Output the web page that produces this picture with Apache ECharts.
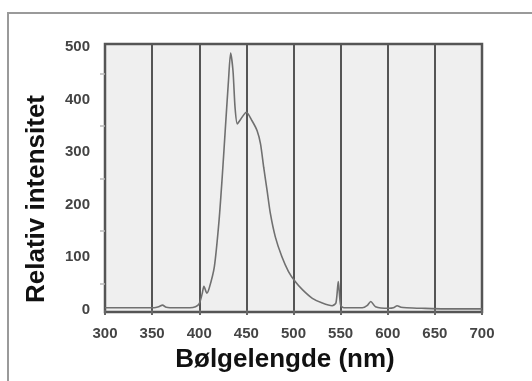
<!DOCTYPE html>
<html>
<head>
<meta charset="utf-8">
<script src="https://cdn.jsdelivr.net/npm/echarts@6/dist/echarts.min.js"></script>
<style>
html,body{margin:0;padding:0;background:#fff;}
#chart{width:532px;height:381px;}
</style>
</head>
<body>
<div id="chart"></div>
<script>
// Wavelength (nm) and relative intensity
var wavelengths = [300,320,340,352,357,361,365,375,390,396,400,403,405,408,410.5,416,421,424.6,428,431,433.3,435.8,438,440.4,444,450,456,461.4,465,468.4,472,475.5,480.7,487.7,494.7,501.8,509.7,520,530.6,541,545,547.5,550,553.5,573,578,582,587,601,606,610,614,620,636,660,680,700];
var intensities = [4,4,4,4,6,9,5,4,4,6,12,30,45,32,41,82,170,259,354,436,489,455,385,354,363,376,360,341,316,271,227,183,139,101,73,54,38,22,13,8,13,54,9,4,4,8,16,6,3,4,8,5,4,3,2,2,2];
var xTicks = [300,350,400,450,500,550,600,650,700];
var yLabels = [0,100,200,300,400,500];
var yMinorTicks = [50,150,250,350,450];

var seriesData = wavelengths.map(function(w,i){ return [w, intensities[i]]; });

var chart = echarts.init(document.getElementById('chart'), null, {renderer:'canvas'});
chart.setOption({
  backgroundColor: '#ffffff',
  animation: false,
  graphic: [{
    type: 'polyline',
    silent: true,
    shape: { points: [[8,381],[8,13],[532,13]] },
    style: { stroke: '#9a9a9a', lineWidth: 2, fill: null }
  }],
  grid: {
    left: 105, right: 50, top: 44, bottom: 69,
    show: true,
    backgroundColor: '#efefef',
    borderColor: '#555555',
    borderWidth: 2.5
  },
  xAxis: {
    type: 'value',
    min: xTicks[0], max: xTicks[xTicks.length-1], interval: 50,
    name: 'Bølgelengde (nm)',
    nameLocation: 'middle',
    nameGap: 35,
    nameTextStyle: { fontFamily: 'Liberation Sans', fontWeight: 'bold', fontSize: 26, color: '#111', padding: [0,17,0,0] },
    axisLine: { show: false },
    axisTick: { show: true, length: 5, lineStyle: { color: '#666', width: 2 } },
    axisLabel: { margin: 14, fontFamily: 'Liberation Sans', fontWeight: 'bold', fontSize: 15, color: '#444' },
    splitLine: { show: true, lineStyle: { color: '#555', width: 2 } }
  },
  yAxis: {
    type: 'value',
    min: -4, max: 506,
    name: 'Relativ intensitet',
    nameLocation: 'middle',
    nameRotate: 90,
    nameGap: 55,
    nameTextStyle: { fontFamily: 'Liberation Sans', fontWeight: 'bold', fontSize: 26, color: '#111', padding: [0,42,0,0] },
    axisLine: { show: false },
    axisTick: { show: true, length: 5, customValues: yMinorTicks, lineStyle: { color: '#bbb', width: 1.5 } },
    axisLabel: { margin: 15, customValues: yLabels, fontFamily: 'Liberation Sans', fontWeight: 'bold', fontSize: 15, color: '#444' },
    splitLine: { show: false }
  },
  series: [{
    type: 'line',
    data: seriesData,
    showSymbol: false,
    smooth: 0.25,
    lineStyle: { color: '#707070', width: 1.6 }
  }]
});
</script>
</body>
</html>
